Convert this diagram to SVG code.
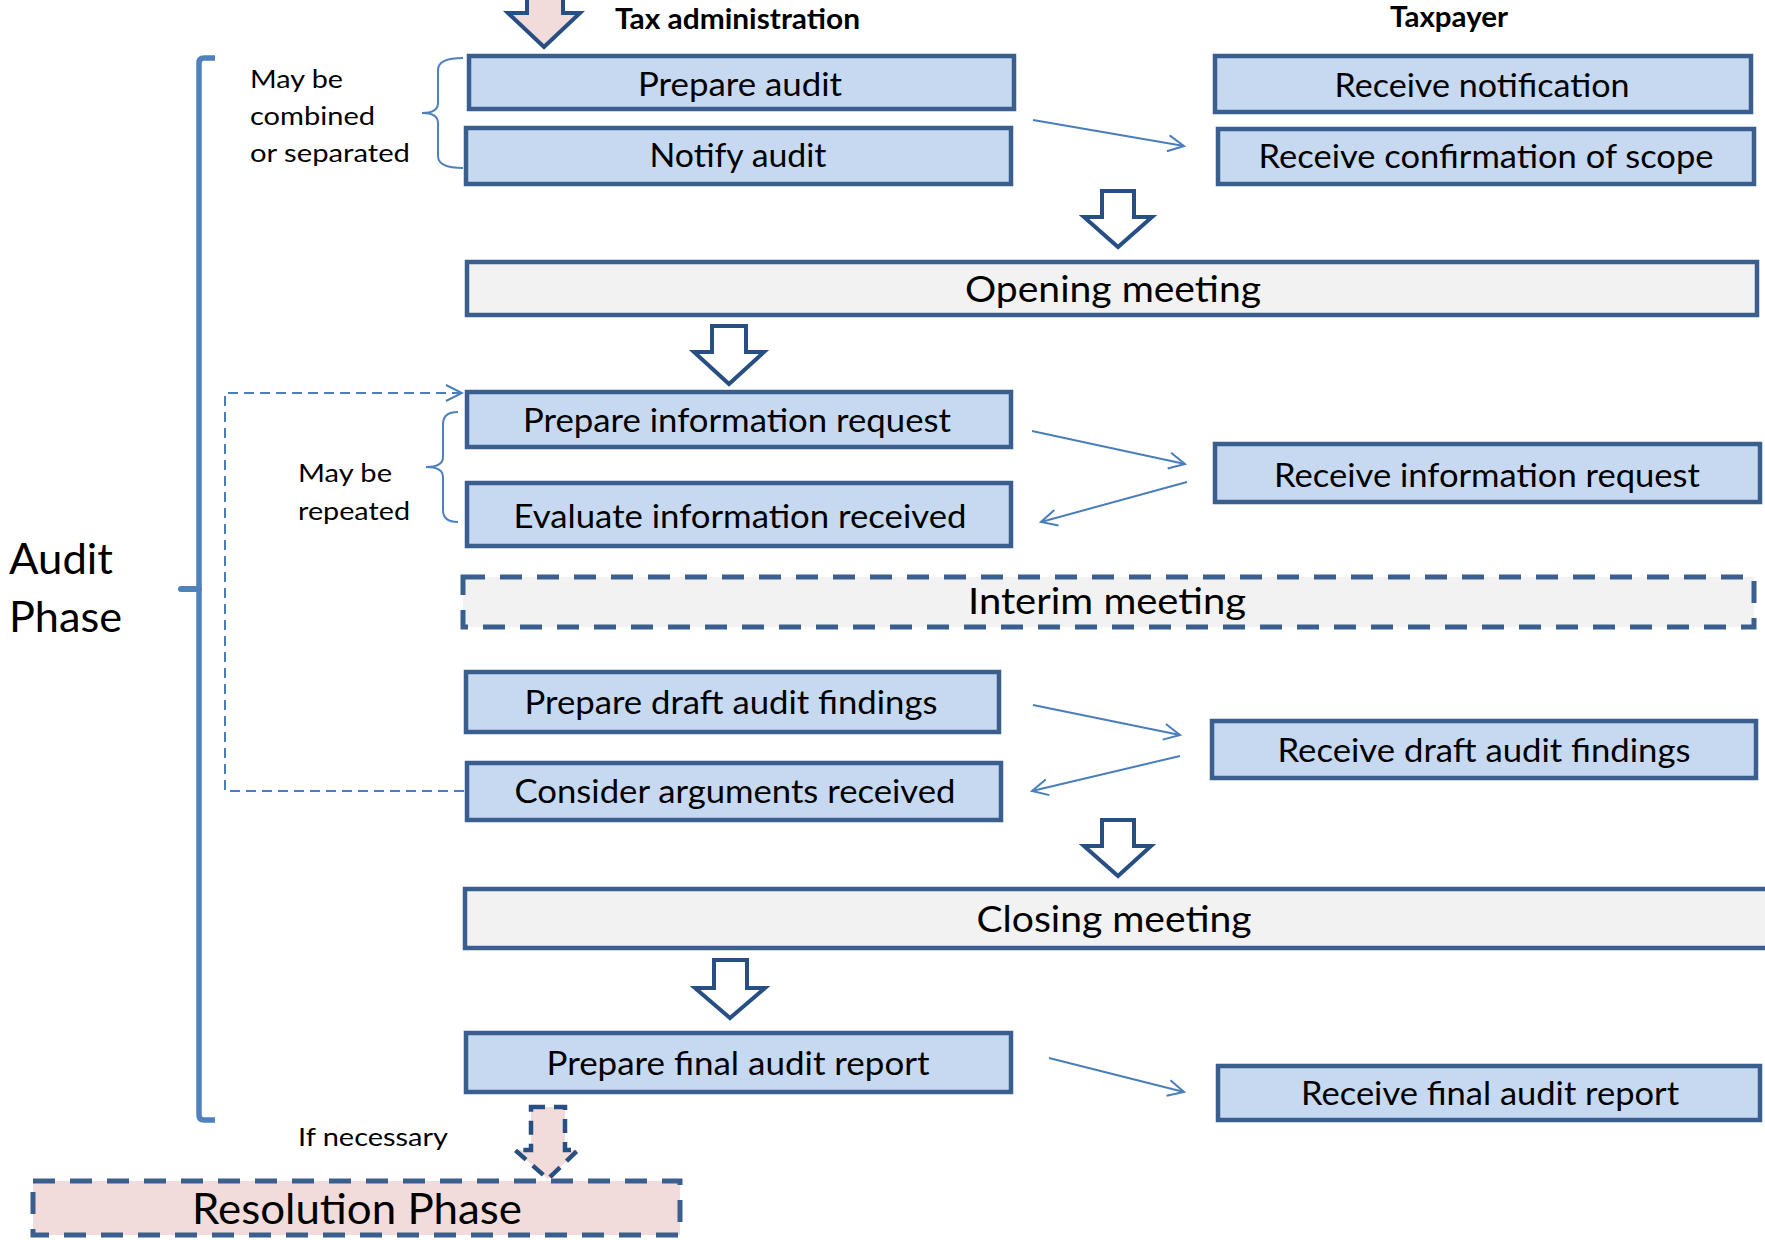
<svg xmlns="http://www.w3.org/2000/svg" width="1765" height="1240" viewBox="0 0 1765 1240">
<style>
.box{fill:#c6d9f1;stroke:#3a5f8e;stroke-width:4.5}
.meet{fill:#f2f2f2;stroke:#3a5f8e;stroke-width:4.5}
.dash{stroke-dasharray:22 15;stroke-width:5}
.t{font-family:Lato,"Open Sans",sans-serif;font-size:33px;fill:#000;text-anchor:middle}
.tm{font-family:Lato,"Open Sans",sans-serif;font-size:37.5px;fill:#000;text-anchor:middle}
.lbl{font-family:Lato,"Open Sans",sans-serif;font-size:25px;fill:#000}
.hd{font-family:Lato,"Open Sans",sans-serif;font-size:28px;font-weight:bold;fill:#000}
.big{font-family:Lato,"Open Sans",sans-serif;font-size:42px;fill:#000}
.conn{fill:none;stroke:#4a7ebb;stroke-width:2}
.brace{fill:none;stroke:#4f81bd;stroke-width:2}
.blk{fill:#fff;stroke:#284f84;stroke-width:4;stroke-linejoin:miter}
</style>
<defs>
<marker id="open" markerUnits="userSpaceOnUse" markerWidth="20" markerHeight="20" refX="16" refY="8" orient="auto" viewBox="-2 -2 20 20">
<path d="M0,0 L16,8 L0,16" fill="none" stroke="#4a7ebb" stroke-width="2"/>
</marker>
</defs>
<rect width="1765" height="1240" fill="#fff"/>

<g id="headers">
<text class="hd" x="615" y="29" textLength="245" lengthAdjust="spacingAndGlyphs">Tax administration</text>
<text class="hd" x="1390" y="27" textLength="118" lengthAdjust="spacingAndGlyphs">Taxpayer</text>
</g>

<g id="audit-phase-bracket">
<path d="M215,58 H204 Q199,58 199,63 V1115 Q199,1120 204,1120 H215" fill="none" stroke="#4f81bd" stroke-width="5.5"/>
<path d="M181,589 H199" fill="none" stroke="#4f81bd" stroke-width="6" stroke-linecap="round"/>
<text class="big" x="9" y="574" textLength="104" lengthAdjust="spacingAndGlyphs">Audit</text>
<text class="big" x="9" y="632" textLength="113" lengthAdjust="spacingAndGlyphs">Phase</text>
</g>

<g id="brace-combined">
<path class="brace" d="M463,58 Q438,58 438,70 V103 Q438,113 422,113 Q438,113 438,123 V156 Q438,168 463,168"/>
<text class="lbl" x="250" y="88" textLength="93" lengthAdjust="spacingAndGlyphs">May be</text>
<text class="lbl" x="250" y="125" textLength="125" lengthAdjust="spacingAndGlyphs">combined</text>
<text class="lbl" x="250" y="162" textLength="160" lengthAdjust="spacingAndGlyphs">or separated</text>
</g>

<g id="brace-repeated">
<path class="brace" d="M458,412 Q443,412 443,424 V457 Q443,467 426,467 Q443,467 443,477 V510 Q443,522 458,522"/>
<text class="lbl" x="298" y="482" textLength="94" lengthAdjust="spacingAndGlyphs">May be</text>
<text class="lbl" x="298" y="520" textLength="112" lengthAdjust="spacingAndGlyphs">repeated</text>
</g>

<g id="connectors">
<path class="conn" d="M1033,120 L1184,146" marker-end="url(#open)"/>
<path class="conn" d="M1032,431 L1185,464" marker-end="url(#open)"/>
<path class="conn" d="M1187,482 L1041,522" marker-end="url(#open)"/>
<path class="conn" d="M1033,705 L1180,735" marker-end="url(#open)"/>
<path class="conn" d="M1180,756 L1032,791" marker-end="url(#open)"/>
<path class="conn" d="M1049,1058 L1184,1092" marker-end="url(#open)"/>
<path class="conn" d="M464,791 H225 V393 H462" stroke-dasharray="10 6" marker-end="url(#open)"/>
<path id="arrow-top" d="M527,-10 H563 V13 H580 L544,47 L508,13 H527 Z" fill="#f2dcdb" stroke="#284f84" stroke-width="4"/>
<path id="arrow-1" class="blk" d="M1102,191 H1134 V217 H1152 L1118,247 L1084,217 H1102 Z"/>
<path id="arrow-2" class="blk" d="M712,326 H746 V352 H764 L729,384 L694,352 H712 Z"/>
<path id="arrow-3" class="blk" d="M1102,820 H1134 V846 H1151 L1118,876 L1084,846 H1102 Z"/>
<path id="arrow-4" class="blk" d="M714,960 H747 V988 H765 L730,1018 L695,988 H714 Z"/>
<path id="arrow-resolution" d="M531,1107 H565 V1150 H578 L548,1179 L515,1150 H531 Z" fill="#f2dcdb" stroke="#284f84" stroke-width="4.5" stroke-dasharray="14 9"/>
<text class="lbl" x="298" y="1146" font-size="26" textLength="150" lengthAdjust="spacingAndGlyphs">If necessary</text>
</g>

<g id="prepare-audit"><rect class="box" x="469" y="56" width="545" height="53"/><text class="t" x="740" y="96" textLength="204" lengthAdjust="spacingAndGlyphs">Prepare audit</text></g>
<g id="notify-audit"><rect class="box" x="466" y="128" width="545" height="56"/><text class="t" x="738" y="167" textLength="177" lengthAdjust="spacingAndGlyphs">Notify audit</text></g>
<g id="receive-notification"><rect class="box" x="1215" y="56" width="536" height="56"/><text class="t" x="1482" y="97" textLength="295" lengthAdjust="spacingAndGlyphs">Receive notification</text></g>
<g id="receive-confirmation"><rect class="box" x="1218" y="129" width="536" height="55"/><text class="t" x="1486" y="168" textLength="455" lengthAdjust="spacingAndGlyphs">Receive confirmation of scope</text></g>
<g id="opening-meeting"><rect class="meet" x="467" y="262" width="1290" height="53"/><text class="tm" x="1113" y="302" textLength="296" lengthAdjust="spacingAndGlyphs">Opening meeting</text></g>
<g id="prepare-info-request"><rect class="box" x="467" y="392" width="544" height="55"/><text class="t" x="737" y="432" textLength="428" lengthAdjust="spacingAndGlyphs">Prepare information request</text></g>
<g id="evaluate-info"><rect class="box" x="467" y="483" width="544" height="63"/><text class="t" x="740" y="528" textLength="453" lengthAdjust="spacingAndGlyphs">Evaluate information received</text></g>
<g id="receive-info-request"><rect class="box" x="1215" y="444" width="545" height="58"/><text class="t" x="1487" y="487" textLength="426" lengthAdjust="spacingAndGlyphs">Receive information request</text></g>
<g id="interim-meeting"><rect class="meet dash" x="463" y="577" width="1291" height="50"/><text class="tm" x="1107" y="614" textLength="278" lengthAdjust="spacingAndGlyphs">Interim meeting</text></g>
<g id="prepare-draft"><rect class="box" x="466" y="672" width="533" height="60"/><text class="t" x="731" y="714" textLength="413" lengthAdjust="spacingAndGlyphs">Prepare draft audit findings</text></g>
<g id="consider-arguments"><rect class="box" x="467" y="763" width="534" height="57"/><text class="t" x="735" y="803" textLength="441" lengthAdjust="spacingAndGlyphs">Consider arguments received</text></g>
<g id="receive-draft"><rect class="box" x="1212" y="721" width="544" height="57"/><text class="t" x="1484" y="762" textLength="413" lengthAdjust="spacingAndGlyphs">Receive draft audit findings</text></g>
<g id="closing-meeting"><rect class="meet" x="465" y="889" width="1310" height="59"/><text class="tm" x="1114" y="932" textLength="275" lengthAdjust="spacingAndGlyphs">Closing meeting</text></g>
<g id="prepare-final"><rect class="box" x="466" y="1033" width="545" height="59"/><text class="t" x="738" y="1075" textLength="383" lengthAdjust="spacingAndGlyphs">Prepare final audit report</text></g>
<g id="receive-final"><rect class="box" x="1218" y="1066" width="542" height="54"/><text class="t" x="1490" y="1105" textLength="378" lengthAdjust="spacingAndGlyphs">Receive final audit report</text></g>
<g id="resolution-phase"><rect x="33" y="1181" width="647" height="54" fill="#f2dcdb" stroke="#3a5f8e" stroke-width="5" stroke-dasharray="22 15"/><text class="big" x="192" y="1224" textLength="330" lengthAdjust="spacingAndGlyphs">Resolution Phase</text></g>
</svg>
